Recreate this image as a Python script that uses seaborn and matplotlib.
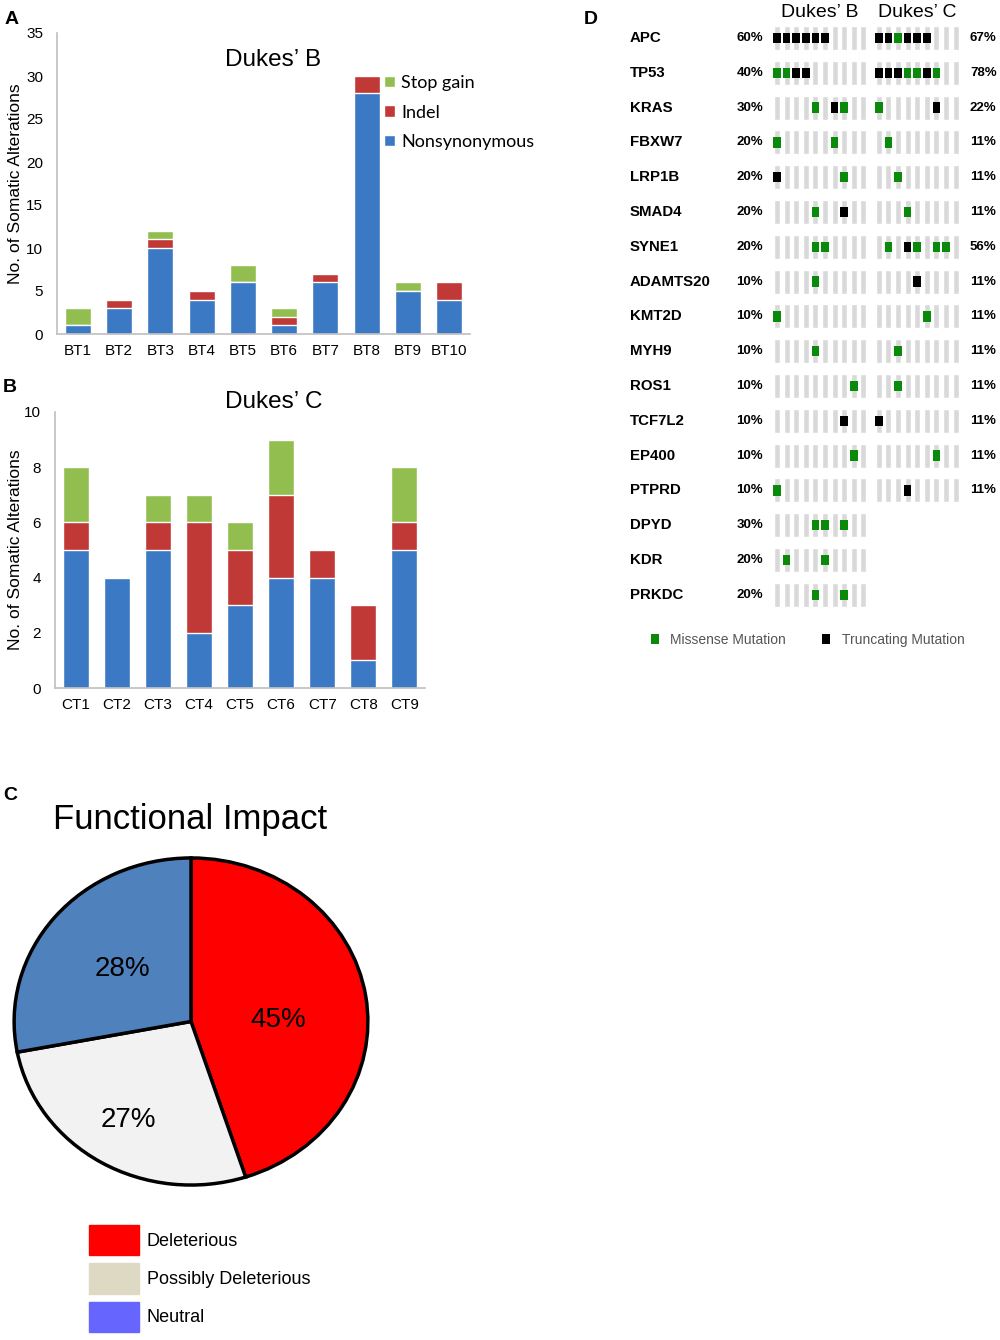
import numpy as np
import pandas as pd
import seaborn as sns
import matplotlib.pyplot as plt
import matplotlib.patches as mpatches
import matplotlib.path as mpath

# ---- panel A / B : somatic alterations per tumour ----
b_samples = ['BT1', 'BT2', 'BT3', 'BT4', 'BT5', 'BT6', 'BT7', 'BT8', 'BT9', 'BT10']
b_nonsyn = [1, 3, 10, 4, 6, 1, 6, 28, 5, 4]
b_indel = [0, 1, 1, 1, 0, 1, 1, 2, 0, 2]
b_stop = [2, 0, 1, 0, 2, 1, 0, 0, 1, 0]

c_samples = ['CT1', 'CT2', 'CT3', 'CT4', 'CT5', 'CT6', 'CT7', 'CT8', 'CT9']
c_nonsyn = [5, 4, 5, 2, 3, 4, 4, 1, 5]
c_indel = [1, 0, 1, 4, 2, 3, 1, 2, 1]
c_stop = [2, 0, 1, 1, 1, 2, 0, 0, 2]

# ---- panel C : functional impact ----
impact_labels = ['Deleterious', 'Possibly Deleterious', 'Neutral']
impact_pct = [45, 27, 28]

# ---- panel D : oncoprint (M = missense, T = truncating, . = none) ----
genes = ['APC', 'TP53', 'KRAS', 'FBXW7', 'LRP1B', 'SMAD4', 'SYNE1', 'ADAMTS20',
         'KMT2D', 'MYH9', 'ROS1', 'TCF7L2', 'EP400', 'PTPRD', 'DPYD', 'KDR', 'PRKDC']
muts_b = ['TTTTTT....', 'MMTT......', '....M.TM..', 'M.....M...', 'T......M..',
          '....M..T..', '....MM....', '....M.....', 'M.........', '....M.....',
          '........M.', '.......T..', '........M.', 'M.........', '....MM.M..',
          '.M...M....', '....M..M..']
muts_c = ['TTMTTT...', 'TTTMMTM..', 'M.....T..', '.M.......', '..M......',
          '...M.....', '.M.TM.MM.', '....T....', '.....M...', '..M......',
          '..M......', 'T........', '......M..', '...T.....', None, None, None]

W, H = 1000, 1340
BLUE, RED, GREEN = '#3b79c4', '#c03936', '#92be50'
AX_GREY = '#bfbfbf'

sns.set_style('white')
plt.rcParams['font.family'] = ['Liberation Sans', 'DejaVu Sans']
plt.rcParams['text.color'] = 'black'
plt.rcParams['axes.labelcolor'] = 'black'
plt.rcParams['xtick.color'] = 'black'
plt.rcParams['ytick.color'] = 'black'

fig = plt.figure(figsize=(W / 100, H / 100), dpi=100)


def px_axes(x0, y0, x1, y1):
    return fig.add_axes([x0 / W, 1 - y1 / H, (x1 - x0) / W, (y1 - y0) / H])


def stacked(ax, samples, nonsyn, indel, stop, ymax, step):
    df = pd.DataFrame({'sample': samples, 'nonsyn': nonsyn, 'indel': indel, 'stop': stop})
    df['ni'] = df['nonsyn'] + df['indel']
    df['total'] = df['ni'] + df['stop']
    sns.barplot(data=df, x='sample', y='total', color=GREEN, width=0.63, saturation=1,
                label='Stop gain', ax=ax)
    sns.barplot(data=df, x='sample', y='ni', color=RED, width=0.63, saturation=1,
                label='Indel', ax=ax)
    sns.barplot(data=df, x='sample', y='nonsyn', color=BLUE, width=0.63, saturation=1,
                label='Nonsynonymous', ax=ax)
    if ax.get_legend() is not None:
        ax.get_legend().remove()
    ax.set_ylim(0, ymax)
    ax.set_yticks(np.arange(0, ymax + 1, step))
    ax.set_xlim(-0.5, len(samples) - 0.5)
    ax.set_xlabel('')
    ax.set_ylabel('No. of Somatic Alterations', fontsize=12.5)
    for s in ['top', 'right']:
        ax.spines[s].set_visible(False)
    for s in ['left', 'bottom']:
        ax.spines[s].set_color(AX_GREY)
        ax.spines[s].set_linewidth(1.2)
    ax.tick_params(axis='y', length=4, color=AX_GREY, labelsize=11, pad=6)
    ax.tick_params(axis='x', length=0, labelsize=11, pad=7)


# ---- A ----
axA = px_axes(57, 33, 470, 334)
stacked(axA, b_samples, b_nonsyn, b_indel, b_stop, 35, 5)
axA.yaxis.set_label_coords((23 - 57) / 413, 0.5)
axA.text(0.523, 0.91, 'Dukes\u2019 B', transform=axA.transAxes, ha='center', va='center',
         fontsize=17.5)
axA.legend(loc='upper left', bbox_to_anchor=((384 - 57) / 413, 1 - (75 - 33) / 301),
           frameon=False, handlelength=0.6, handleheight=0.6,
           handletextpad=0.35, labelspacing=0.75, borderpad=0, borderaxespad=0,
           prop={'family': ['Lato', 'DejaVu Sans'], 'size': 13})

# ---- B ----
axB = px_axes(55, 412, 425, 688)
stacked(axB, c_samples, c_nonsyn, c_indel, c_stop, 10, 2)
axB.yaxis.set_label_coords((23 - 55) / 370, 0.5)
axB.text(0.59, 1.035, 'Dukes\u2019 C', transform=axB.transAxes, ha='center', va='center',
         fontsize=17.5)

# ---- C ----
axC = px_axes(12, 856, 370, 1187)
wedges, _, autotexts = axC.pie(impact_pct, colors=['#ff0000', '#f2f2f2', '#4f81bd'],
                               startangle=90, counterclock=False,
                               autopct=lambda p: f'{p:.0f}%', pctdistance=0.5,
                               wedgeprops={'edgecolor': 'black', 'linewidth': 2.5},
                               textprops={'fontsize': 20})
pct_dist = [0.5, 0.7, 0.5]
for t, d in zip(autotexts, pct_dist):
    x, y = t.get_position()
    t.set_position((x / 0.5 * d, y / 0.5 * d - (0.07 if d == 0.5 and x > 0 else 0)))
axC.set_aspect('auto')
axC.set_xlim(-1.012, 1.012)
axC.set_ylim(-1.012, 1.012)
fig.text(190 / W, 1 - 820 / H, 'Functional Impact', ha='center', va='center', fontsize=25)
fig.legend(handles=[mpatches.Patch(color=c, label=l) for c, l in
                    zip(['#ff0000', '#ddd9c3', '#6666ff'], impact_labels)],
           loc='upper left', bbox_to_anchor=(89 / W, 1 - 1225 / H), frameon=False,
           fontsize=13, handlelength=2.75, handleheight=2.2, handletextpad=0.45,
           labelspacing=0.45, borderpad=0, borderaxespad=0)

# ---- D ----
axD = px_axes(620, 0, 1000, 660)
col_w = 9.6
c_offset = 10.6
b_pos = np.arange(len(muts_b[0]))
c_pos = c_offset + np.arange(len(muts_c[0]))
rows = []
for gi, g in enumerate(genes):
    axD.bar(b_pos, 0.69, bottom=gi - 0.345, width=0.62, color='#d9d9d9')
    for j, ch in enumerate(muts_b[gi]):
        if ch != '.':
            rows.append((gi, b_pos[j], 'Missense Mutation' if ch == 'M' else 'Truncating Mutation'))
    if muts_c[gi] is not None:
        axD.bar(c_pos, 0.69, bottom=gi - 0.345, width=0.62, color='#d9d9d9')
        for j, ch in enumerate(muts_c[gi]):
            if ch != '.':
                rows.append((gi, c_pos[j], 'Missense Mutation' if ch == 'M' else 'Truncating Mutation'))
mut_df = pd.DataFrame(rows, columns=['gene', 'pos', 'type'])
sq = mpath.Path([(-0.36, -0.5), (0.36, -0.5), (0.36, 0.5), (-0.36, 0.5), (-0.36, -0.5)],
                closed=True)
sns.scatterplot(data=mut_df, x='pos', y='gene', hue='type', marker=sq, s=58, linewidth=0,
                palette={'Missense Mutation': '#0a8a0a', 'Truncating Mutation': 'black'},
                hue_order=['Missense Mutation', 'Truncating Mutation'], ax=axD)

x_left = -(777 - 620) / col_w
axD.set_xlim(x_left, x_left + 380 / col_w)
axD.set_ylim((660 - 38) / 34.8, -38 / 34.8)
axD.axis('off')
for gi, g in enumerate(genes):
    axD.text(x_left + 10 / col_w, gi, g, ha='left', va='center', fontsize=10.8, fontweight='bold')
    pb = 100 * sum(ch != '.' for ch in muts_b[gi]) / len(muts_b[gi])
    axD.text(-1.45, gi, f'{pb:.0f}%', ha='right', va='center', fontsize=9.5, fontweight='bold')
    if muts_c[gi] is not None:
        pc = 100 * sum(ch != '.' for ch in muts_c[gi]) / len(muts_c[gi])
        axD.text(20.1, gi, f'{pc:.0f}%', ha='left', va='center', fontsize=9.5, fontweight='bold')
axD.text(b_pos.mean(), -0.72, 'Dukes\u2019 B', ha='center', va='center', fontsize=14)
axD.text(c_pos.mean(), -0.72, 'Dukes\u2019 C', ha='center', va='center', fontsize=14)
sns.move_legend(axD, 'center left', bbox_to_anchor=((648 - 620) / 380, 1 - 640 / 660),
                ncol=2, frameon=False, title=None, fontsize=10, handlelength=1,
                handletextpad=0.6, columnspacing=2.4, borderpad=0, borderaxespad=0)
for t in axD.get_legend().get_texts():
    t.set_color('#555555')

# panel letters
for letter, x, y in [('A', 12, 20), ('B', 10, 388), ('C', 10, 796), ('D', 591, 20)]:
    fig.text(x / W, 1 - y / H, letter, ha='center', va='center', fontsize=14,
             fontweight='bold')

plt.savefig('out.png', dpi=100)
